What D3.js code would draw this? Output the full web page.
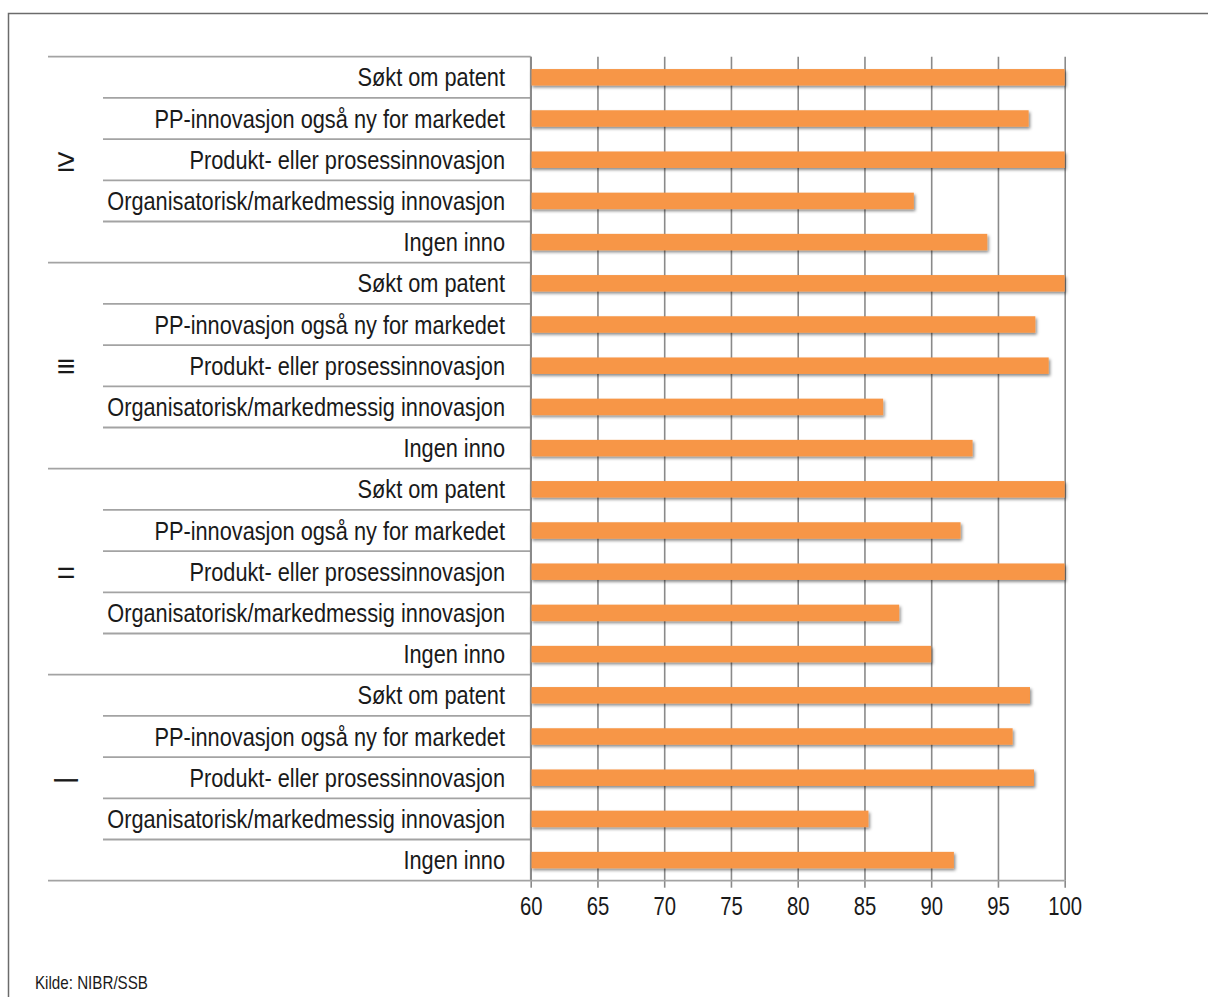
<!DOCTYPE html>
<html>
<head>
<meta charset="utf-8">
<script src="https://cdn.jsdelivr.net/npm/d3@7"></script>
<style>
  html, body { margin: 0; padding: 0; background: #fff; }
  svg { display: block; }
  text { font-family: "Liberation Sans", Arial, sans-serif; fill: #1a1a1a; }
</style>
</head>
<body>
<svg id="chart" width="1208" height="997"></svg>
<script>
// ---- data ----
const groups = ["≥", "≡", "=", "—"];
const categories = [
  "Søkt om patent",
  "PP-innovasjon også ny for markedet",
  "Produkt- eller prosessinnovasjon",
  "Organisatorisk/markedmessig innovasjon",
  "Ingen inno"
];
const valuesG1 = [100, 97.3, 100, 88.7, 94.2];
const valuesG2 = [100, 97.8, 98.8, 86.4, 93.1];
const valuesG3 = [100, 92.2, 100, 87.6, 90.0];
const valuesG4 = [97.4, 96.1, 97.7, 85.3, 91.7];
const tickValues = [60, 65, 70, 75, 80, 85, 90, 95, 100];
const sourceText = "Kilde: NIBR/SSB";

const seriesByGroup = [valuesG1, valuesG2, valuesG3, valuesG4];
const rows = [];
groups.forEach((g, gi) => {
  categories.forEach((c, ci) => {
    rows.push({ key: gi + "|" + ci, group: g, gi, ci, cat: c, value: seriesByGroup[gi][ci] });
  });
});

// narrow the text horizontally (reference uses a condensed face)
function condense(k) {
  return sel => sel.each(function () {
    const w = this.getComputedTextLength();
    this.setAttribute("textLength", (w * k).toFixed(2));
    this.setAttribute("lengthAdjust", "spacingAndGlyphs");
  });
}

// ---- layout ----
const svg = d3.select("#chart");
const plotLeft = 530.7, plotRight = 1064.7, plotTop = 56.7, plotBottom = 880.7;
const labelRight = 505, cellLeft = 103, groupLeft = 48;

const x = d3.scaleLinear().domain([60, 100]).range([plotLeft, plotRight]);
const y = d3.scaleBand().domain(rows.map(r => r.key)).range([plotTop, plotBottom])
  .paddingInner(0.6).paddingOuter(0.3);
const step = y.step();

// outer frame
svg.append("rect").attr("x", 8.5).attr("y", 13.5).attr("width", 1300).attr("height", 1100)
  .attr("fill", "none").attr("stroke", "#6b6b6b").attr("stroke-width", 1.5);

// shadow filter
const defs = svg.append("defs");
const f = defs.append("filter").attr("id", "shadow").attr("x", "-5%").attr("y", "-50%").attr("width", "110%").attr("height", "250%");
f.append("feDropShadow").attr("dx", 1.5).attr("dy", 2).attr("stdDeviation", 1.6)
  .attr("flood-color", "#000").attr("flood-opacity", 0.45);

// vertical gridlines
const xGrid = d3.axisBottom(x).tickValues(tickValues).tickSize(-(plotBottom - plotTop)).tickFormat("");
const gg = svg.append("g").attr("transform", `translate(0,${plotBottom})`).call(xGrid);
gg.select(".domain").remove();
gg.selectAll(".tick line").attr("stroke", "#8a8a8a").attr("stroke-width", 1.6);

// horizontal row separators (label area only)
const sepG = svg.append("g");
rows.forEach((r) => {
  const yTop = y(r.key) - step * 0.3;
  const left = r.ci === 0 ? groupLeft : cellLeft;
  sepG.append("line").attr("x1", left).attr("x2", plotLeft).attr("y1", yTop).attr("y2", yTop)
    .attr("stroke", "#a3a3a3").attr("stroke-width", 1.8);
});

// bars
svg.append("g").selectAll("rect").data(rows).join("rect")
  .attr("x", x(60))
  .attr("y", d => y(d.key))
  .attr("width", d => x(d.value) - x(60))
  .attr("height", y.bandwidth())
  .attr("fill", "#f79646")
  .attr("filter", "url(#shadow)");

// category labels
svg.append("g").selectAll("text").data(rows).join("text")
  .attr("x", labelRight)
  .attr("y", d => y(d.key) + y.bandwidth() / 2)
  .attr("dy", "0.36em")
  .attr("text-anchor", "end")
  .attr("font-size", 25)
  .text(d => d.cat)
  .call(condense(0.87));

// group labels
svg.append("g").selectAll("text").data(groups).join("text")
  .attr("x", 66)
  .attr("y", (g, gi) => {
    const a = y(gi + "|0") - step * 0.3;
    const b = y(gi + "|4") + y.bandwidth() + step * 0.3;
    return (a + b) / 2;
  })
  .attr("dy", "0.36em")
  .attr("text-anchor", "middle")
  .attr("font-size", (d, i) => i === 3 ? 23 : 32)
  .attr("stroke", (d, i) => i === 3 ? "#1a1a1a" : "none")
  .attr("stroke-width", 0.9)
  .text(d => d);

// vertical category axis line
svg.append("line").attr("x1", plotLeft).attr("x2", plotLeft).attr("y1", plotTop).attr("y2", plotBottom)
  .attr("stroke", "#8a8a8a").attr("stroke-width", 1.6);

// bottom axis
const xAxis = d3.axisBottom(x).tickValues(tickValues).tickSize(7).tickPadding(10).tickFormat(d3.format("d"));
const ax = svg.append("g").attr("transform", `translate(0,${plotBottom})`).call(xAxis);
ax.select(".domain").remove();
ax.selectAll(".tick line").attr("stroke", "#8a8a8a").attr("stroke-width", 1.6);
ax.selectAll(".tick text").attr("font-size", 25).attr("fill", "#1a1a1a")
  .attr("font-family", "\"Liberation Sans\", Arial, sans-serif")
  .call(condense(0.81));
svg.append("line").attr("x1", groupLeft).attr("x2", plotRight).attr("y1", plotBottom).attr("y2", plotBottom)
  .attr("stroke", "#a3a3a3").attr("stroke-width", 1.8);

// source
svg.append("text").attr("x", 35).attr("y", 989).attr("font-size", 18.5).text(sourceText).call(condense(0.82));
</script>
</body>
</html>
